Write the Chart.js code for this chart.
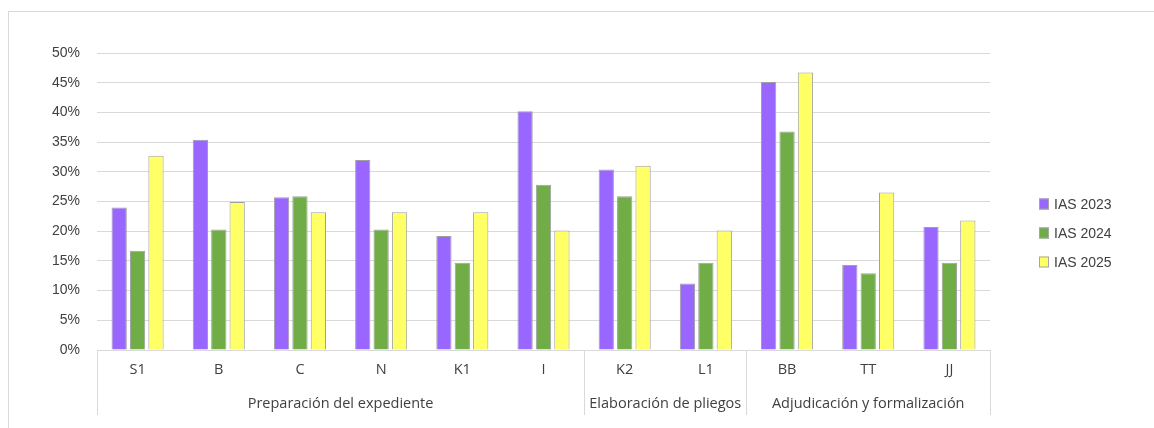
<!DOCTYPE html>
<html>
<head>
<meta charset="utf-8">
<script src="https://cdn.jsdelivr.net/npm/chart.js@4"></script>
<style>
  html, body { margin: 0; padding: 0; background: #fff; }
  #frame {
    position: absolute; left: 8px; top: 11px;
    width: 1146px; height: 417px;
    border-top: 1px solid #d9d9d9; border-left: 1px solid #d9d9d9;
    box-sizing: border-box;
  }
  #wrap { position: relative; width: 1145px; height: 416px; }
</style>
</head>
<body>
<div id="frame"><div id="wrap"><canvas id="chart"></canvas></div></div>
<script>
// --- DATA ---
const categories = ['S1', 'B', 'C', 'N', 'K1', 'I', 'K2', 'L1', 'BB', 'TT', 'JJ'];
const groupNames = ['Preparación del expediente', 'Elaboración de pliegos', 'Adjudicación y formalización'];
const groupSizes = [6, 2, 3];
const seriesNames = ['IAS 2023', 'IAS 2024', 'IAS 2025'];
const ias2023 = [24.0, 35.4, 25.7, 32.0, 19.2, 40.2, 30.4, 11.2, 45.1, 14.3, 20.7];
const ias2024 = [16.7, 20.3, 25.9, 20.3, 14.7, 27.8, 25.9, 14.7, 36.8, 12.9, 14.7];
const ias2025 = [32.7, 24.9, 23.2, 23.2, 23.2, 20.1, 31.0, 20.1, 46.7, 26.5, 21.8];
const yTicks = [0, 5, 10, 15, 20, 25, 30, 35, 40, 45, 50];

const colors = ['#9966ff', '#70ad47', '#ffff66'];
const textColor = '#404040';
const lineColor = '#d9d9d9';

// Group labels + separators under the category axis
const groupAxisPlugin = {
    id: 'groupAxis',
    afterDraw(chart) {
        const ctx = chart.ctx;
        const area = chart.chartArea;
        const step = (area.right - area.left) / categories.length;
        const lineBottom = area.bottom + 65;

        ctx.save();
        ctx.strokeStyle = lineColor;
        ctx.lineWidth = 1;

        let start = 0;
        const edges = [0];
        groupSizes.forEach(n => { start += n; edges.push(start); });
        edges.forEach(i => {
            const px = Math.round(area.left + i * step) + 0.5;
            ctx.beginPath();
            ctx.moveTo(px, area.bottom);
            ctx.lineTo(px, lineBottom);
            ctx.stroke();
        });

        ctx.fillStyle = textColor;
        ctx.font = '14.5px "Open Sans", sans-serif';
        ctx.textAlign = 'center';
        ctx.textBaseline = 'middle';
        for (let g = 0; g < groupNames.length; g++) {
            const mid = area.left + (edges[g] + edges[g + 1]) / 2 * step;
            ctx.fillText(groupNames[g], mid, area.bottom + 54);
        }
        ctx.restore();
    }
};

// Legend drawn on the right, Excel style
const sideLegendPlugin = {
    id: 'sideLegend',
    afterDraw(chart) {
        const ctx = chart.ctx;
        const left = chart.width - 115;
        const top = 192;
        ctx.save();
        ctx.font = '14px "Liberation Sans", Arial, sans-serif';
        ctx.textBaseline = 'middle';
        ctx.textAlign = 'left';
        chart.data.datasets.forEach((ds, i) => {
            const cy = top + i * 29;
            ctx.fillStyle = ds.backgroundColor;
            ctx.fillRect(left, cy - 5.5, 10, 11);
            ctx.strokeStyle = '#a6a6a6';
            ctx.lineWidth = 1;
            ctx.strokeRect(left + 0.5, cy - 5, 9, 10);
            ctx.fillStyle = textColor;
            ctx.fillText(ds.label, left + 15, cy + 1);
        });
        ctx.restore();
    }
};

const ctx = document.getElementById('chart').getContext('2d');
new Chart(ctx, {
    type: 'bar',
    data: {
        labels: categories,
        datasets: [ias2023, ias2024, ias2025].map((vals, i) => ({
            label: seriesNames[i],
            data: vals,
            backgroundColor: colors[i],
            borderColor: '#a0a0a0',
            borderWidth: 1,
            categoryPercentage: 0.68,
            barPercentage: 0.83
        }))
    },
    options: {
        responsive: true,
        maintainAspectRatio: false,
        animation: false,
        devicePixelRatio: 1,
        layout: { padding: { top: 41, right: 164, left: 0, bottom: 0 } },
        plugins: {
            legend: { display: false },
            tooltip: { enabled: false }
        },
        scales: {
            x: {
                grid: { display: false, drawTicks: false },
                border: { display: true, color: lineColor },
                ticks: {
                    color: textColor,
                    font: { family: '"Open Sans", sans-serif', size: 14.5 },
                    padding: 11,
                    maxRotation: 0
                },
                afterFit(scale) { scale.height = 78; }
            },
            y: {
                min: 0,
                max: 50,
                afterBuildTicks(scale) { scale.ticks = yTicks.map(v => ({ value: v })); },
                grid: { color: lineColor, drawTicks: false },
                border: { display: false },
                ticks: {
                    color: textColor,
                    font: { family: '"Liberation Sans", Arial, sans-serif', size: 14 },
                    padding: 17,
                    callback: v => v + '%'
                },
                afterFit(scale) { scale.width = 88; }
            }
        }
    },
    plugins: [groupAxisPlugin, sideLegendPlugin]
});
</script>
</body>
</html>
